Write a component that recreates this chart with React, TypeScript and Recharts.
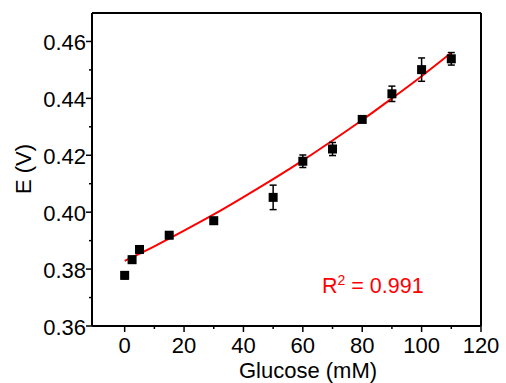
import React from "react";
import {
  ComposedChart,
  Customized,
  ErrorBar,
  Line,
  ReferenceLine,
  Scatter,
  XAxis,
  YAxis,
} from "recharts";

// measured points (glucose mM -> E in V)
const glucose = [0, 2.5, 5, 15, 30, 50, 60, 70, 80, 90, 100, 110];
const potential = [0.3778, 0.3833, 0.3869, 0.3919, 0.3970, 0.4052, 0.4179, 0.4222, 0.4326, 0.4416, 0.4501, 0.4539];
const errors = [0.0012, 0.0012, 0.0006, 0.0011, 0.0011, 0.0043, 0.0022, 0.0023, 0.0007, 0.0027, 0.0041, 0.0022];

// fitted curve
const fitX = [0, 10, 20, 30, 40, 50, 60, 70, 80, 90, 100, 110];
const fitY = [0.3829, 0.3880, 0.3935, 0.3992, 0.4053, 0.4116, 0.4182, 0.4252, 0.4324, 0.4400, 0.4478, 0.4560];

const xTicks = [0, 10, 20, 30, 40, 50, 60, 70, 80, 90, 100, 110, 120];
const yTicks = [0.36, 0.37, 0.38, 0.39, 0.40, 0.41, 0.42, 0.43, 0.44, 0.45, 0.46];

const points = glucose.map((x, i) => ({ x, e: potential[i], err: errors[i] }));
const fit = fitX.map((x, i) => ({ x, fit: fitY[i] }));

const FONT = "Arial, 'Liberation Sans', sans-serif";

const XTick = (props: any) => {
  const { x, y, payload } = props;
  const major = payload.value % 20 === 0;
  return (
    <g>
      <line x1={x} x2={x} y1={y} y2={y + (major ? 6 : 3)} stroke="#000" strokeWidth={1.5} />
      {major && (
        <text x={x} y={y + 27} textAnchor="middle" fontSize={22} fontFamily={FONT} fill="#000">
          {payload.value}
        </text>
      )}
    </g>
  );
};

const YTick = (props: any) => {
  const { x, y, payload } = props;
  const major = Math.round(payload.value * 100) % 2 === 0;
  return (
    <g>
      <line x1={x} x2={x - (major ? 6 : 3)} y1={y} y2={y} stroke="#000" strokeWidth={1.5} />
      {major && (
        <text x={x - 6} y={y + 9} textAnchor="end" fontSize={22} fontFamily={FONT} fill="#000">
          {payload.value.toFixed(2)}
        </text>
      )}
    </g>
  );
};

const SquareDot = (props: any) => {
  const { cx, cy } = props;
  return <rect x={cx - 4.5} y={cy - 4.5} width={9} height={9} fill="#000" />;
};

const Texts = () => (
  <g fontFamily={FONT}>
    <text x={308} y={378} textAnchor="middle" fontSize={22} fill="#000">
      Glucose (mM)
    </text>
    <text
      x={23}
      y={169}
      textAnchor="middle"
      fontSize={22}
      fill="#000"
      transform="rotate(-90 23 169)"
      dominantBaseline="central"
    >
      E (V)
    </text>
    <text x={322} y={293} fontSize={21.5} fill="#ff0000">
      R
      <tspan fontSize={14} dy={-8}>2</tspan>
      <tspan dy={8}> = 0.991</tspan>
    </text>
  </g>
);

export default function App() {
  return (
    <div style={{ position: "absolute", left: 0, top: 0, background: "#fff" }}>
      <ComposedChart
        width={506}
        height={383}
        margin={{ top: 13, right: 25, bottom: 0, left: 0 }}
      >
        <XAxis
          type="number"
          dataKey="x"
          domain={[-11, 120]}
          ticks={xTicks}
          allowDataOverflow
          height={57}
          tickSize={0}
          tickMargin={0}
          tickLine={false}
          tick={<XTick />}
          axisLine={{ stroke: "#000", strokeWidth: 2 }}
          interval={0}
        />
        <YAxis
          type="number"
          domain={[0.36, 0.47]}
          ticks={yTicks}
          allowDataOverflow
          width={92}
          tickSize={0}
          tickMargin={0}
          tickLine={false}
          tick={<YTick />}
          axisLine={{ stroke: "#000", strokeWidth: 2 }}
          interval={0}
        />
        <ReferenceLine y={0.47} stroke="#000" strokeWidth={2} />
        <ReferenceLine x={120} stroke="#000" strokeWidth={2} />
        <Line
          data={fit}
          dataKey="fit"
          type="monotone"
          stroke="#ff0000"
          strokeWidth={2}
          dot={false}
          activeDot={false}
          isAnimationActive={false}
        />
        <Scatter
          data={points}
          dataKey="e"
          fill="#000"
          shape={<SquareDot />}
          isAnimationActive={false}
        >
          <ErrorBar dataKey="err" direction="y" width={3.5} stroke="#000" strokeWidth={1.5} />
        </Scatter>
        <Customized component={Texts} />
      </ComposedChart>
    </div>
  );
}
